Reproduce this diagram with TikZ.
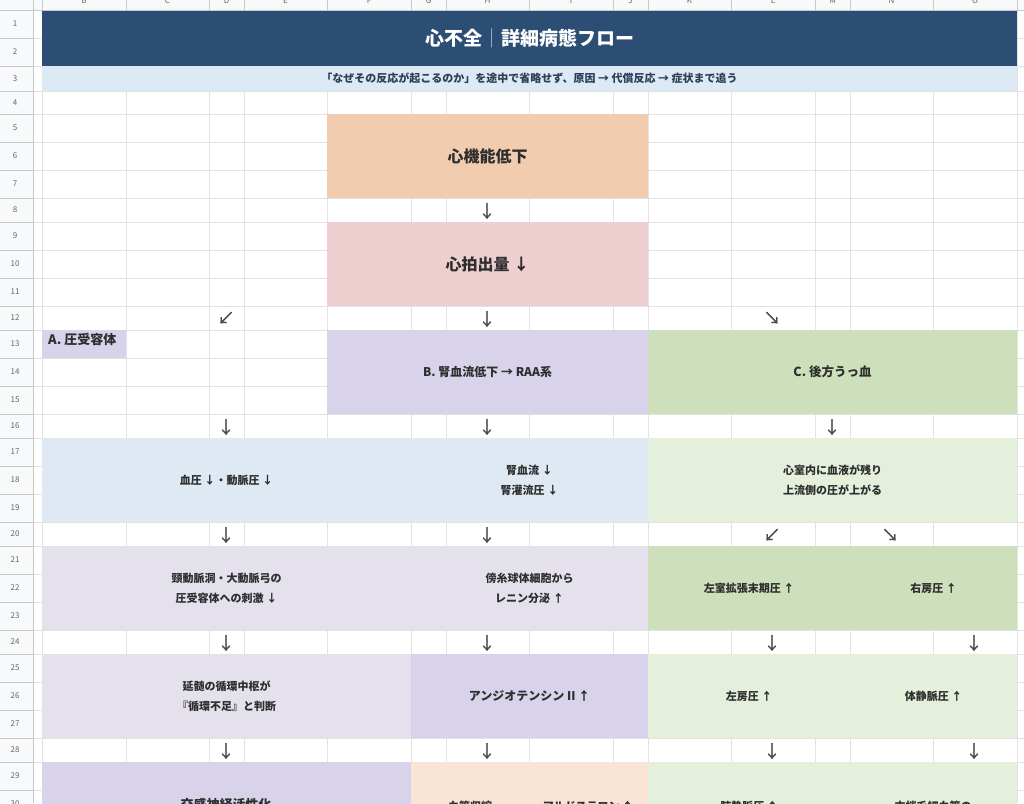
\documentclass[tikz,border=0pt]{standalone}
\usepackage{fontspec}
\setmainfont{Noto Sans CJK JP}
\newfontfamily\arrfont[FakeBold=1.2]{Noto Sans CJK JP}
\definecolor{titlebg}{HTML}{2D4E74}
\definecolor{subbg}{HTML}{DDE9F5}
\definecolor{subtxt}{HTML}{2B3F58}
\definecolor{orangebg}{HTML}{F1CCAE}
\definecolor{pinkbg}{HTML}{EECFCF}
\definecolor{purplebg}{HTML}{D8D3EA}
\definecolor{lavbg}{HTML}{E4E0EC}
\definecolor{bluebg}{HTML}{DFE9F4}
\definecolor{greenbg}{HTML}{CDE0BB}
\definecolor{lgreenbg}{HTML}{E4EFDC}
\definecolor{peachbg}{HTML}{FAE4D5}
\definecolor{gridc}{HTML}{E2E2E2}
\definecolor{hdrbg}{HTML}{F8F9FA}
\definecolor{hdrline}{HTML}{C8C8C8}
\definecolor{hdrtxt}{HTML}{666666}
\definecolor{bodytxt}{HTML}{2E2E2E}
\definecolor{arrc}{HTML}{4A4A4A}
\definecolor{sepc}{HTML}{9FB1C6}
\newcommand{\cellfill}[6]{\node[cellbg, fill=#6, minimum width={(#4-#2)*1pt}, minimum height={(#5-#3)*1pt}] (#1) at ({(#2+#4)/2},{(#3+#5)/2}) {};}
\begin{document}
\begin{tikzpicture}[x=1pt,y=-1pt,
  cellbg/.style={draw=none, inner sep=0pt, outer sep=0pt},
  body/.style={text=bodytxt, font=\fontsize{11}{20}\selectfont\bfseries, align=center, inner sep=0pt},
  head/.style={text=bodytxt, font=\fontsize{12.5}{16}\selectfont\bfseries, align=center, inner sep=0pt},
  big/.style={text=bodytxt, font=\fontsize{16}{20}\selectfont\bfseries, align=center, inner sep=0pt},
  arr/.style={text=arrc, font=\arrfont\fontsize{17}{17}\selectfont, inner sep=0pt},
  rownum/.style={text=hdrtxt, font=\fontsize{8}{8}\selectfont, inner sep=0pt},
  colnum/.style={text=hdrtxt, font=\fontsize{8}{8}\selectfont, inner sep=0pt}]
\useasboundingbox (0,0) rectangle (1024,803);
\clip (0,0) rectangle (1024,803);
\fill[white] (0,0) rectangle (1024,803);
% grid
\foreach \yy in {10,38,66,91,114,142,170,198,222,250,278,306,330,358,386,414,438,466,494,522,546,574,602,630,654,682,710,738,762,790}
  \draw[gridc, line width=1pt] (33,\yy) -- (1024,\yy);
\foreach \xx in {42,126,209,244,327,411,446,529,613,648,731,815,850,933,1017}
  \draw[gridc, line width=1pt] (\xx,10) -- (\xx,803);
% title and subtitle
\cellfill{title}{42}{10}{1017}{66}{titlebg}
\node[text=white, font=\fontsize{19}{20}\selectfont\bfseries, inner sep=0pt] (titletext) at (title.center) {心不全\textcolor{sepc}{｜}詳細病態フロー};
\cellfill{sub}{42}{66}{1017}{91}{subbg}
\node[text=subtxt, font=\fontsize{11}{12}\selectfont\bfseries, inner sep=0pt] (subtext) at (sub.center) {「なぜその反応が起こるのか」を途中で省略せず、原因 → 代償反応 → 症状まで追う};
% main chain
\cellfill{k1}{327}{114}{648}{198}{orangebg}
\node[big] (k1t) at (k1.center) {心機能低下};
\cellfill{k2}{327}{222}{648}{306}{pinkbg}
\node[big] (k2t) at (k2.center) {心拍出量 ↓};
% headers A B C
\cellfill{ha}{42}{330}{126}{358}{purplebg}
\node[head, font=\fontsize{13}{16}\selectfont\bfseries, anchor=west] (hat) at (48,340) {A. 圧受容体};
\cellfill{hb}{327}{330}{648}{414}{purplebg}
\node[head, font=\fontsize{12}{16}\selectfont\bfseries] (hbt) at (hb.center) {B. 腎血流低下 → RAA系};
\cellfill{hc}{648}{330}{1017}{414}{greenbg}
\node[head] (hct) at (hc.center) {C. 後方うっ血};
% row 17-19
\cellfill{a1}{42}{438}{411}{522}{bluebg}
\node[body] (a1t) at (a1.center) {血圧 ↓・動脈圧 ↓};
\cellfill{b1}{411}{438}{648}{522}{bluebg}
\node[body] (b1t) at (b1.center) {腎血流 ↓\\腎灌流圧 ↓};
\cellfill{c1}{648}{438}{1017}{522}{lgreenbg}
\node[body] (c1t) at (c1.center) {心室内に血液が残り\\上流側の圧が上がる};
% row 21-23
\cellfill{a2}{42}{546}{411}{630}{lavbg}
\node[body] (a2t) at (a2.center) {頸動脈洞・大動脈弓の\\圧受容体への刺激 ↓};
\cellfill{b2}{411}{546}{648}{630}{lavbg}
\node[body] (b2t) at (b2.center) {傍糸球体細胞から\\レニン分泌 ↑};
\cellfill{c2}{648}{546}{850}{630}{greenbg}
\node[body] (c2t) at (c2.center) {左室拡張末期圧 ↑};
\cellfill{d2}{850}{546}{1017}{630}{greenbg}
\node[body] (d2t) at (d2.center) {右房圧 ↑};
% row 25-27
\cellfill{a3}{42}{654}{411}{738}{lavbg}
\node[body] (a3t) at (a3.center) {延髄の循環中枢が\\『循環不足』と判断};
\cellfill{b3}{411}{654}{648}{738}{purplebg}
\node[body, font=\fontsize{12}{20}\selectfont\bfseries] (b3t) at (b3.center) {アンジオテンシン II ↑};
\cellfill{c3}{648}{654}{850}{738}{lgreenbg}
\node[body] (c3t) at (c3.center) {左房圧 ↑};
\cellfill{d3}{850}{654}{1017}{738}{lgreenbg}
\node[body] (d3t) at (d3.center) {体静脈圧 ↑};
% row 29 (cut off by the lower edge, as in the reference)
\cellfill{a4}{42}{762}{411}{846}{purplebg}
\node[body, font=\fontsize{13}{20}\selectfont\bfseries] (a4t) at (226,804) {交感神経活性化};
\cellfill{b4}{411}{762}{529}{846}{peachbg}
\node[body] (b4t) at (470,806) {血管収縮};
\cellfill{b5}{529}{762}{648}{846}{peachbg}
\node[body] (b5t) at (588,806) {アルドステロン ↑};
\cellfill{c4}{648}{762}{850}{846}{lgreenbg}
\node[body] (c4t) at (749,806) {肺静脈圧 ↑};
\cellfill{d4}{850}{762}{1017}{846}{lgreenbg}
\node[body] (d4t) at (933,806) {末梢毛細血管の};
% arrows (cell glyphs)
\node[arr] (r8) at (487,211) {↓};
\node[arr] (r12a) at (226,318) {↙};
\node[arr] (r12b) at (487,319) {↓};
\node[arr] (r12c) at (772,318) {↘};
\node[arr] (r16a) at (226,427) {↓};
\node[arr] (r16b) at (487,427) {↓};
\node[arr] (r16c) at (832,427) {↓};
\node[arr] (r20a) at (226,535) {↓};
\node[arr] (r20b) at (487,535) {↓};
\node[arr] (r20c) at (772,535) {↙};
\node[arr] (r20d) at (890,535) {↘};
\node[arr] (r24a) at (226,643) {↓};
\node[arr] (r24b) at (487,643) {↓};
\node[arr] (r24c) at (772,643) {↓};
\node[arr] (r24d) at (974,643) {↓};
\node[arr] (r28a) at (226,751) {↓};
\node[arr] (r28b) at (487,751) {↓};
\node[arr] (r28c) at (772,751) {↓};
\node[arr] (r28d) at (974,751) {↓};
% headers
\fill[hdrbg] (0,0) rectangle (1024,10);
\fill[hdrbg] (0,0) rectangle (33,803);
\draw[hdrline, line width=1pt] (0,10) -- (1024,10);
\draw[hdrline, line width=1pt] (33,0) -- (33,803);
\foreach \xx in {42,126,209,244,327,411,446,529,613,648,731,815,850,933,1017}
  \draw[hdrline, line width=0.6pt] (\xx,0) -- (\xx,10);
\foreach \yy in {38,66,91,114,142,170,198,222,250,278,306,330,358,386,414,438,466,494,522,546,574,602,630,654,682,710,738,762,790}
  \draw[hdrline, line width=0.6pt] (0,\yy) -- (33,\yy);
\foreach \lab/\cx in {B/84,C/167.5,D/226.5,E/285.5,F/369,G/428.5,H/487.5,I/571,J/630.5,K/689.5,L/773,M/832.5,N/891.5,O/975}
  \node[colnum] (col\lab) at (\cx,1) {\lab};
\foreach \n/\cy in {1/24,2/52,3/78.5,4/102.5,5/128,6/156,7/184,8/210,9/236,10/264,11/292,12/318,13/344,14/372,15/400,16/426,17/452,18/480,19/508,20/534,21/560,22/588,23/616,24/642,25/668,26/696,27/724,28/750,29/776,30/804}
  \node[rownum] (row\n) at (15,\cy) {\n};
\end{tikzpicture}
\end{document}
